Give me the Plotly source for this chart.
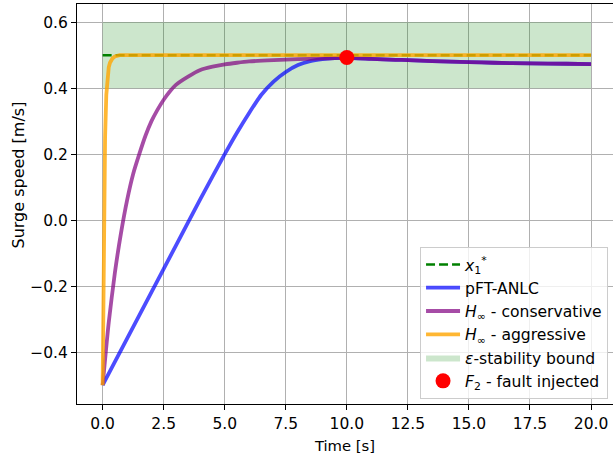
import plotly.graph_objects as go

# ---- data ----
t_ref = [0, 20]
x1_star = [0.5, 0.5]

t_blue = [0, 1, 2, 3, 4, 5, 5.5, 6, 6.5, 7, 7.5, 8, 8.5, 9, 9.5, 10,
          11, 12, 12.5, 13.5, 15, 16, 17.5, 19, 20]
v_blue = [-0.5, -0.359, -0.218, -0.077, 0.064, 0.2, 0.265, 0.325, 0.38, 0.42,
          0.449, 0.47, 0.482, 0.488, 0.491, 0.492,
          0.489, 0.486, 0.485, 0.482, 0.479, 0.477, 0.475, 0.474, 0.473]

t_purple = [0, 0.25, 0.5, 0.75, 1, 1.25, 1.5, 1.75, 2, 2.25, 2.5, 2.75, 3, 3.5, 4, 4.5,
            5, 5.5, 6, 7, 8, 9, 10,
            11, 12, 12.5, 13.5, 15, 16, 17.5, 19, 20]
v_purple = [-0.5, -0.31, -0.16, -0.04, 0.06, 0.14, 0.2, 0.255, 0.3, 0.335, 0.365, 0.39,
            0.41, 0.435, 0.455, 0.465, 0.472, 0.477, 0.481, 0.485, 0.488, 0.49, 0.492,
            0.489, 0.486, 0.485, 0.482, 0.479, 0.477, 0.475, 0.474, 0.473]

t_orange = [0, 0.03, 0.06, 0.1, 0.15, 0.2, 0.25, 0.3, 0.4, 0.5, 0.6, 0.7, 1.0, 20]
v_orange = [-0.5, -0.2, 0.05, 0.25, 0.38, 0.44, 0.463, 0.477, 0.49, 0.496, 0.499, 0.5, 0.5, 0.5]

bound_t = [0, 20]
bound_low = [0.4, 0.4]
bound_high = [0.6, 0.6]

fault_t = [10]
fault_v = [0.493]

x_ticks = [0, 2.5, 5, 7.5, 10, 12.5, 15, 17.5, 20]
y_ticks = [-0.4, -0.2, 0.0, 0.2, 0.4, 0.6]

FONT = "DejaVu Sans"
FS = 15.5

fig = go.Figure()

# epsilon-stability bound (fill)
fig.add_trace(go.Scatter(x=bound_t, y=bound_low, mode="lines", line=dict(width=0),
                         showlegend=False, hoverinfo="skip", legendgroup="g5"))
fig.add_trace(go.Scatter(x=bound_t, y=bound_high, mode="lines", line=dict(width=0),
                         fill="tonexty", fillcolor="rgba(0,128,0,0.2)",
                         name="<i>ε</i>-stability bound", legendrank=5, legendgroup="g5"))

fig.add_trace(go.Scatter(x=t_ref, y=x1_star, mode="lines",
                         line=dict(color="green", width=2.5, dash="9px,4px"),
                         name="<i>x</i><sub>1</sub><sup>*</sup>", legendrank=1, legendgroup="g1"))
fig.add_trace(go.Scatter(x=t_blue, y=v_blue, mode="lines",
                         line=dict(color="rgba(0,0,255,0.7)", width=3.8, shape="spline", smoothing=0.6),
                         name="pFT-ANLC", legendrank=2, legendgroup="g2"))
fig.add_trace(go.Scatter(x=t_purple, y=v_purple, mode="lines",
                         line=dict(color="rgba(128,0,128,0.7)", width=3.8, shape="spline", smoothing=0.6),
                         name="<i>H</i><sub>∞</sub> - conservative", legendrank=3, legendgroup="g3"))
fig.add_trace(go.Scatter(x=t_orange, y=v_orange, mode="lines",
                         line=dict(color="rgba(255,165,0,0.8)", width=3.8),
                         name="<i>H</i><sub>∞</sub> - aggressive", legendrank=4, legendgroup="g4"))
fig.add_trace(go.Scatter(x=fault_t, y=fault_v, mode="markers",
                         marker=dict(color="red", size=15),
                         name="<i>F</i><sub>2</sub> - fault injected", legendrank=6, legendgroup="g6"))

fig.update_layout(
    width=613, height=455,
    margin=dict(l=77, r=0, t=4, b=51, autoexpand=False),
    paper_bgcolor="white", plot_bgcolor="white",
    font=dict(family=FONT, size=FS, color="black"),
    legend=dict(x=0.64, y=0.013, xanchor="left", yanchor="bottom",
                traceorder="normal",
                bgcolor="rgba(255,255,255,0.8)", bordercolor="#cccccc", borderwidth=1,
                font=dict(family=FONT, size=15.6), itemwidth=34, tracegroupgap=0),
    xaxis=dict(range=[-1.05, 20.9], tickvals=x_ticks, tickformat=".1f",
               showgrid=True, gridcolor="#b0b0b0", gridwidth=1, zeroline=False,
               showline=True, linecolor="black", linewidth=1, mirror=True,
               ticks="outside", ticklen=5, tickcolor="black", automargin=False,
               title=dict(text="Time [s]", standoff=9, font=dict(family=FONT, size=14.8))),
    yaxis=dict(range=[-0.557, 0.655], tickvals=y_ticks, tickformat=".1f",
               showgrid=True, gridcolor="#b0b0b0", gridwidth=1, zeroline=False,
               showline=True, linecolor="black", linewidth=1, mirror=False,
               ticks="outside", ticklen=5, tickcolor="black", automargin=False),
    annotations=[dict(text="Surge speed [m/s]", textangle=-90, showarrow=False,
                      xref="paper", yref="paper", x=(17.5 - 77) / 536, y=(404 - 175) / 400,
                      xanchor="center", yanchor="middle",
                      font=dict(family=FONT, size=16))],
)

fig.write_html("out.html", config={"displayModeBar": False},
               post_script="document.body.style.margin='0px';document.body.style.overflow='hidden';")
